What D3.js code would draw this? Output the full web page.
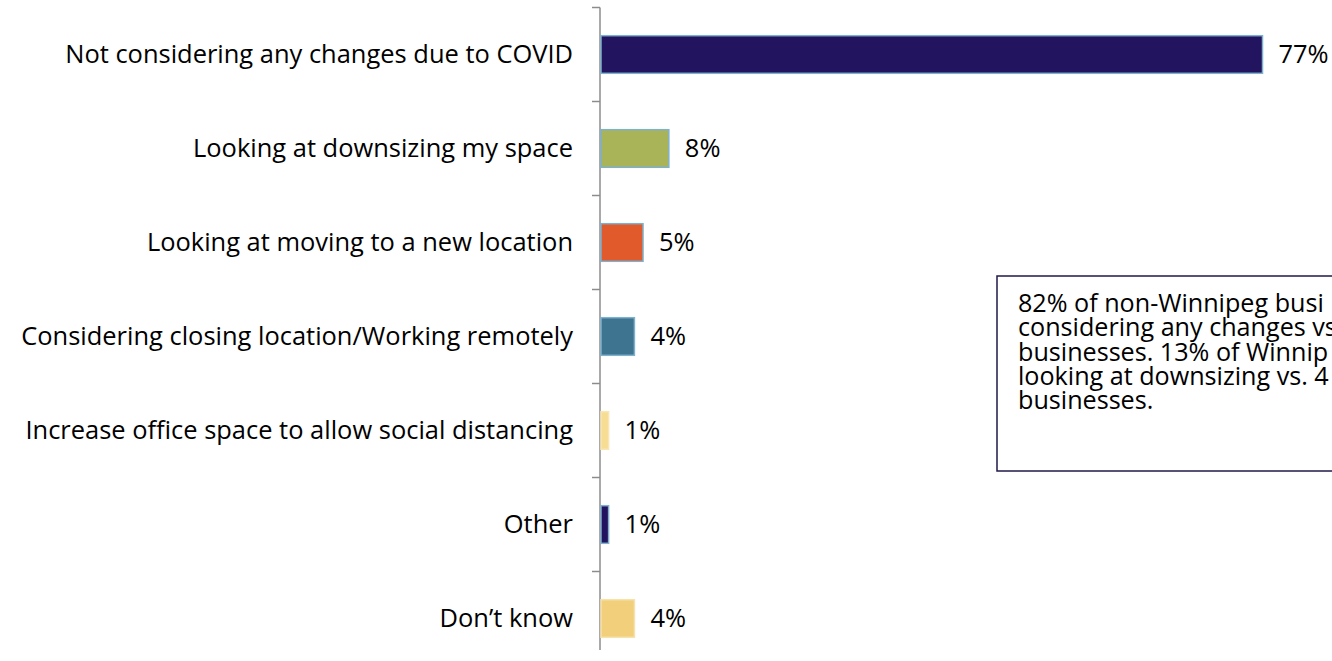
<!DOCTYPE html>
<html>
<head>
<meta charset="utf-8">
<script src="https://cdn.jsdelivr.net/npm/d3@7/dist/d3.min.js"></script>
<style>
  html, body { margin: 0; padding: 0; background: #fff; overflow: hidden; }
  svg { display: block; }
  text { font-family: "Open Sans", "Noto Sans", sans-serif; fill: #000; }
</style>
</head>
<body>
<svg id="chart" width="1332" height="661"></svg>
<script>
// Responses: what changes to their office space are businesses considering
const categories = [
  "Not considering any changes due to COVID",
  "Looking at downsizing my space",
  "Looking at moving to a new location",
  "Considering closing location/Working remotely",
  "Increase office space to allow social distancing",
  "Other",
  "Don\u2019t know"
];
const values = [77, 8, 5, 4, 1, 1, 4];
const valueLabels = ["77%", "8%", "5%", "4%", "1%", "1%", "4%"];
const barColors = ["#22145f", "#a9b358", "#e05a2b", "#3e7490", "#f7dc93", "#22145f", "#f1cf7b"];
const barStrokes = ["#7fb0cc", "#7fb0cc", "#7fb0cc", "#7fb0cc", "#f8e6b4", "#7fb0cc", "#f6e2ad"];
const noteLines = [
  "82% of non-Winnipeg busi",
  "considering any changes vs",
  "businesses. 13% of Winnip",
  "looking at downsizing vs. 4",
  "businesses."
];

const svg = d3.select("#chart");

// Measure a string's width at a given size
function measure(str, size) {
  const t = svg.append("text").attr("font-size", size).text(str);
  const w = t.node().getComputedTextLength();
  t.remove();
  return w;
}
const labelSize = 20 * 508 / measure(categories[0], 20);
const noteSize = 20 * 306 / measure(noteLines[0], 20);

const axisX = 600;
const x = d3.scaleLinear().domain([0, 77]).range([axisX, 1262.5]);
const y = d3.scaleBand().domain(categories).range([7.5, 665.5]).paddingInner(0.6).paddingOuter(0.3);
const step = y.step();
const bandTop = d => y(d) - y.paddingOuter() * step;

// Category axis: vertical line with ticks at band boundaries
const axis = svg.append("g").attr("class", "axis");
axis.append("line")
  .attr("x1", axisX).attr("x2", axisX)
  .attr("y1", bandTop(categories[0])).attr("y2", 650)
  .attr("stroke", "#8c8c8c").attr("stroke-width", 1.5);
axis.selectAll("line.tick")
  .data(categories)
  .join("line")
  .attr("class", "tick")
  .attr("x1", axisX - 8).attr("x2", axisX)
  .attr("y1", d => bandTop(d)).attr("y2", d => bandTop(d))
  .attr("stroke", "#8c8c8c").attr("stroke-width", 1.5);

// Category labels
svg.append("g").selectAll("text")
  .data(categories)
  .join("text")
  .attr("x", 573)
  .attr("y", d => y(d) + y.bandwidth() / 2)
  .attr("dy", "0.35em")
  .attr("text-anchor", "end")
  .attr("font-size", labelSize)
  .text(d => d);

// Bars
svg.append("g").selectAll("rect")
  .data(values)
  .join("rect")
  .attr("x", x(0) + 1)
  .attr("y", (d, i) => y(categories[i]))
  .attr("width", d => Math.max(x(d) - x(0) - 1, 2))
  .attr("height", y.bandwidth())
  .attr("fill", (d, i) => barColors[i])
  .attr("stroke", (d, i) => barStrokes[i])
  .attr("stroke-width", 1.5);

// Value labels
svg.append("g").selectAll("text")
  .data(values)
  .join("text")
  .attr("x", d => x(d) + 16)
  .attr("y", (d, i) => y(categories[i]) + y.bandwidth() / 2)
  .attr("dy", "0.35em")
  .attr("font-size", labelSize)
  .text((d, i) => valueLabels[i]);

// Note box: one paragraph, one line per tspan
const note = svg.append("g");
note.append("rect")
  .attr("x", 997).attr("y", 276)
  .attr("width", 400).attr("height", 195)
  .attr("fill", "#fff")
  .attr("stroke", "#1f1a4a").attr("stroke-width", 1.5);
note.append("text")
  .attr("font-size", noteSize)
  .selectAll("tspan")
  .data(noteLines)
  .join("tspan")
  .attr("x", 1018)
  .attr("y", (d, i) => 312 + i * 24.3)
  .text(d => d);
</script>
</body>
</html>
